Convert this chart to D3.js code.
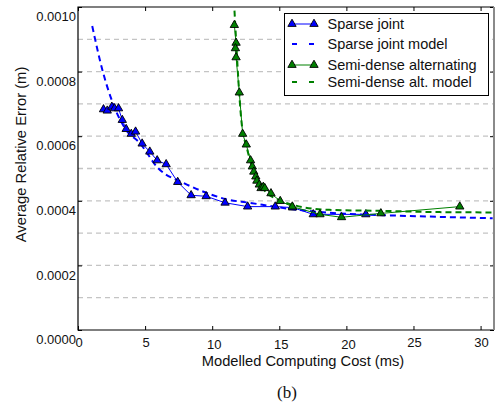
<!DOCTYPE html>
<html>
<head>
<meta charset="utf-8">
<script src="https://cdn.jsdelivr.net/npm/d3@7"></script>
<style>
  body { margin: 0; background: #fff; }
  svg { display: block; font-family: "Liberation Sans", Arial, sans-serif; }
</style>
</head>
<body>
<svg></svg>
<script>
// Sparse joint (measured)
const sparseX = [1.90, 2.18, 2.52, 2.72, 3.02, 3.30, 3.59, 3.97, 4.29, 4.78, 5.35, 5.90, 6.57, 7.43, 8.43, 9.55, 10.96, 12.64, 14.70, 15.99, 17.53, 21.45];
const sparseY = [6.83e-4, 6.79e-4, 6.91e-4, 6.86e-4, 6.86e-4, 6.50e-4, 6.22e-4, 6.07e-4, 6.14e-4, 5.77e-4, 5.52e-4, 5.25e-4, 5.13e-4, 4.58e-4, 4.17e-4, 4.14e-4, 3.94e-4, 3.82e-4, 3.82e-4, 3.79e-4, 3.58e-4, 3.58e-4];

// Sparse joint model
const sparseModelX = [1.06, 1.85, 2.60, 3.59, 4.58, 5.95, 7.93, 9.55, 11.03, 12.76, 15.97, 19.47, 23.93, 30.9];
const sparseModelY = [9.41e-4, 8.00e-4, 7.02e-4, 6.19e-4, 5.80e-4, 5.02e-4, 4.54e-4, 4.25e-4, 4.05e-4, 3.94e-4, 3.74e-4, 3.61e-4, 3.54e-4, 3.46e-4];

// Semi-dense alternating (measured)
const semiX = [11.65, 11.78, 11.73, 11.78, 12.02, 12.27, 12.54, 12.86, 12.99, 13.10, 13.25, 13.33, 13.51, 13.64, 13.81, 13.92, 14.38, 15.07, 15.97, 18.03, 19.64, 22.57, 28.45];
const semiY = [9.44e-4, 8.89e-4, 8.72e-4, 8.44e-4, 7.35e-4, 6.07e-4, 5.74e-4, 5.25e-4, 5.06e-4, 4.90e-4, 4.75e-4, 4.62e-4, 4.50e-4, 4.39e-4, 4.43e-4, 4.39e-4, 4.23e-4, 3.99e-4, 3.82e-4, 3.58e-4, 3.49e-4, 3.61e-4, 3.82e-4];

// Semi-dense alt. model
const semiModelX = [11.62, 11.78, 11.95, 12.17, 12.62, 13.21, 13.88, 15.0, 16.24, 18.72, 22.45, 26.9, 30.9];
const semiModelY = [10.2e-4, 8.98e-4, 7.74e-4, 6.50e-4, 5.57e-4, 4.80e-4, 4.33e-4, 4.02e-4, 3.85e-4, 3.72e-4, 3.69e-4, 3.65e-4, 3.64e-4];

const xTicks = [0, 5, 10, 15, 20, 25, 30];
const yTicks = [0, 0.0002, 0.0004, 0.0006, 0.0008, 0.0010];
const yGrid = [0.0001, 0.0002, 0.0003, 0.0004, 0.0005, 0.0006, 0.0007, 0.0008, 0.0009];

const seriesNames = ["Sparse joint", "Sparse joint model", "Semi-dense alternating", "Semi-dense alt. model"];

const width = 497, height = 402,
      margin = { top: 7, right: 3, bottom: 72, left: 78 };

const x = d3.scaleLinear().domain([0, 31]).range([margin.left, width - margin.right]);
const y = d3.scaleLinear().domain([0, 0.001]).range([height - margin.bottom, margin.top]);

const zip = (xs, ys) => xs.map((v, i) => [v, ys[i]]);

const svg = d3.select("svg")
    .attr("width", width)
    .attr("height", height)
    .attr("viewBox", [0, 0, width, height]);

svg.append("clipPath").attr("id", "clip")
  .append("rect")
    .attr("x", margin.left).attr("y", margin.top)
    .attr("width", width - margin.left - margin.right)
    .attr("height", height - margin.top - margin.bottom);

// grid
svg.append("g")
  .selectAll("line")
  .data(yGrid)
  .join("line")
    .attr("x1", margin.left).attr("x2", width - margin.right)
    .attr("y1", d => y(d)).attr("y2", d => y(d))
    .attr("stroke", "#c4c4c4")
    .attr("stroke-width", 1.3)
    .attr("stroke-dasharray", "5,4");

// axes
const xAxis = d3.axisBottom(x).tickValues(xTicks).tickSizeInner(-4).tickSizeOuter(0).tickPadding(8);
const yAxis = d3.axisLeft(y).tickValues(yTicks).tickFormat(d3.format(".4f")).tickSizeInner(-4).tickSizeOuter(0).tickPadding(2);

const gx = svg.append("g")
    .attr("transform", `translate(0,${y(0)})`)
    .call(xAxis);
gx.select(".domain").remove();
gx.selectAll("text")
    .attr("font-size", 13)
    .attr("font-family", "Liberation Sans, Arial, sans-serif")
    .attr("fill", "#111")
    .attr("dx", d => (d >= 10 && d <= 20) ? 1.5 : 0.5)
    .attr("dy", d => (d >= 10 && d <= 20) ? "0.88em" : "0.71em");

svg.append("g")
    .attr("transform", `translate(0,${y(0.001)})`)
    .call(d3.axisTop(x).tickValues(xTicks).tickSizeInner(-4).tickSizeOuter(0).tickFormat(""))
    .select(".domain").remove();

const gy = svg.append("g")
    .attr("transform", `translate(${margin.left},0)`)
    .call(yAxis);
gy.select(".domain").remove();
gy.selectAll("text")
    .attr("font-size", 13)
    .attr("font-family", "Liberation Sans, Arial, sans-serif")
    .attr("fill", "#111")
    .attr("dy", "1.05em");

svg.append("g")
    .attr("transform", `translate(${width - margin.right},0)`)
    .call(d3.axisRight(y).tickValues(yTicks).tickSizeInner(-4).tickSizeOuter(0).tickFormat(""))
    .select(".domain").remove();

// frame
svg.append("path")
    .attr("fill", "none")
    .attr("stroke", "#000")
    .attr("stroke-width", 1.2)
    .attr("d", `M${x(31)},${y(0.001)}H${x(0)}V${y(0)}H${x(31)}`);
svg.append("line")
    .attr("x1", x(31)).attr("x2", x(31))
    .attr("y1", y(0.001)).attr("y2", y(0))
    .attr("stroke", "#8a8a8a")
    .attr("stroke-width", 2);

const line = d3.line().x(d => x(d[0])).y(d => y(d[1]));
const smooth = d3.line().curve(d3.curveMonotoneX).x(d => x(d[0])).y(d => y(d[1]));

const plot = svg.append("g").attr("clip-path", "url(#clip)");

const tri = d3.symbol().type(d3.symbolTriangle).size(30);

function drawSeries(xs, ys, color, fill) {
  const pts = zip(xs, ys);
  plot.append("path")
      .attr("fill", "none")
      .attr("stroke", color)
      .attr("stroke-width", 1)
      .attr("d", line(pts));
  plot.append("g")
    .selectAll("path")
    .data(pts)
    .join("path")
      .attr("transform", d => `translate(${x(d[0])},${y(d[1])})`)
      .attr("d", tri)
      .attr("fill", fill)
      .attr("stroke", "#000")
      .attr("stroke-width", 0.9);
}

function drawModel(xs, ys, color) {
  plot.append("path")
      .attr("fill", "none")
      .attr("stroke", color)
      .attr("stroke-width", 2)
      .attr("stroke-dasharray", "6,4")
      .attr("d", smooth(zip(xs, ys)));
}

drawModel(sparseModelX, sparseModelY, "#0000ff");
drawSeries(sparseX, sparseY, "#0000ff", "#0000ff");
drawModel(semiModelX, semiModelY, "#008000");
drawSeries(semiX, semiY, "#008000", "#008000");

// legend
const legend = svg.append("g");
legend.append("rect")
    .attr("x", 284.5).attr("y", 13.5)
    .attr("width", 204).attr("height", 82)
    .attr("fill", "#fff")
    .attr("stroke", "#000")
    .attr("stroke-width", 1);

const legendItems = [
  { name: seriesNames[0], color: "#0000ff", model: false, y: 24 },
  { name: seriesNames[1], color: "#0000ff", model: true, y: 44 },
  { name: seriesNames[2], color: "#008000", model: false, y: 65 },
  { name: seriesNames[3], color: "#008000", model: true, y: 82 }
];
legendItems.forEach(it => {
  const l = legend.append("line")
      .attr("x1", 292).attr("x2", 314)
      .attr("y1", it.y).attr("y2", it.y)
      .attr("stroke", it.color);
  if (it.model) {
    l.attr("stroke-width", 2).attr("stroke-dasharray", "5,12");
  } else {
    l.attr("stroke-width", 1);
    [292, 314].forEach(px => legend.append("path")
        .attr("transform", `translate(${px},${it.y})`)
        .attr("d", tri)
        .attr("fill", it.color)
        .attr("stroke", "#000")
        .attr("stroke-width", 0.9));
  }
  legend.append("text")
      .attr("x", 327.5).attr("y", it.y)
      .attr("dy", "0.36em")
      .attr("font-size", 14.5)
      .attr("fill", "#111")
      .text(it.name);
});

// axis titles
svg.append("text")
    .attr("transform", `translate(26,${(y(0) + y(0.001)) / 2 - 14}) rotate(-90)`)
    .attr("text-anchor", "middle")
    .attr("font-size", 14.8)
    .attr("fill", "#111")
    .text("Average Relative Error (m)");

svg.append("text")
    .attr("x", 303).attr("y", 366)
    .attr("text-anchor", "middle")
    .attr("font-size", 14.7)
    .attr("fill", "#111")
    .text("Modelled Computing Cost (ms)");

svg.append("text")
    .attr("x", 287).attr("y", 398)
    .attr("text-anchor", "middle")
    .attr("font-family", "Liberation Serif, Times New Roman, serif")
    .attr("font-size", 17)
    .attr("fill", "#111")
    .text("(b)");
</script>
</body>
</html>
